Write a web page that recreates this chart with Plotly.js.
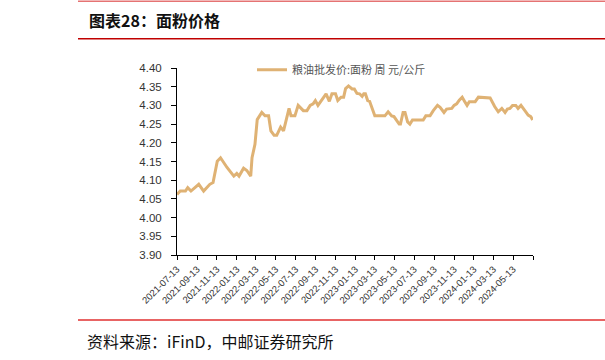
<!DOCTYPE html>
<html>
<head>
<meta charset="utf-8">
<script src="https://cdn.plot.ly/plotly-3.0.1.min.js"></script>
<style>html,body{margin:0;padding:0;background:#fff;}#chart{width:605px;height:360px;}</style>
</head>
<body>
<div id="chart"></div>
<script>
const seriesName = '粮油批发价:面粉 周 元/公斤';
const dates = [
 '2021-07-13','2021-07-23','2021-08-08','2021-08-15','2021-08-25','2021-09-05','2021-09-18','2021-10-03','2021-10-22','2021-11-01',
 '2021-11-14','2021-11-24','2021-12-14','2022-01-04','2022-01-13','2022-01-20','2022-02-03','2022-02-13','2022-02-25','2022-03-01',
 '2022-03-10','2022-03-17','2022-03-26','2022-03-31','2022-04-10','2022-04-21','2022-04-28','2022-05-08','2022-05-16','2022-05-28',
 '2022-06-06','2022-06-14','2022-06-23','2022-06-29','2022-07-11','2022-07-21','2022-08-06','2022-08-17','2022-08-27','2022-09-05',
 '2022-09-12','2022-09-20','2022-10-07','2022-10-15','2022-10-25','2022-11-02','2022-11-13','2022-11-20','2022-11-30','2022-12-08',
 '2022-12-14','2022-12-23','2023-01-03','2023-01-10','2023-01-18','2023-01-26','2023-02-03','2023-02-08','2023-02-13','2023-02-20',
 '2023-02-26','2023-03-05','2023-03-14','2023-03-30','2023-04-14','2023-04-24','2023-05-05','2023-05-12','2023-05-20','2023-05-28',
 '2023-06-01','2023-06-09','2023-06-15','2023-06-23','2023-06-30','2023-07-08','2023-07-31','2023-08-10','2023-08-18','2023-08-31',
 '2023-09-10','2023-09-23','2023-10-01','2023-10-13','2023-10-21','2023-11-06','2023-11-13','2023-11-21','2023-11-29','2023-12-08',
 '2023-12-16','2023-12-23','2023-12-30','2024-01-17','2024-01-27','2024-02-26','2024-03-03','2024-03-17','2024-03-28','2024-04-08',
 '2024-04-18','2024-04-25','2024-05-03','2024-05-11','2024-05-21','2024-05-28','2024-06-06','2024-06-18','2024-06-28','2024-07-06',
 '2024-07-12'
];
const flourPrice = [
 4.062,4.071,4.071,4.080,4.071,4.080,4.089,4.071,4.089,4.094,
 4.151,4.160,4.134,4.111,4.118,4.111,4.132,4.126,4.111,4.160,
 4.196,4.262,4.276,4.281,4.272,4.272,4.232,4.220,4.220,4.242,
 4.232,4.259,4.292,4.272,4.272,4.300,4.286,4.286,4.300,4.304,
 4.313,4.300,4.322,4.331,4.311,4.331,4.331,4.313,4.322,4.322,
 4.345,4.352,4.344,4.344,4.332,4.331,4.324,4.331,4.331,4.313,
 4.311,4.295,4.272,4.272,4.272,4.283,4.272,4.270,4.259,4.250,
 4.250,4.281,4.281,4.256,4.250,4.261,4.261,4.261,4.272,4.272,
 4.286,4.300,4.295,4.281,4.290,4.292,4.300,4.304,4.314,4.322,
 4.310,4.300,4.310,4.310,4.322,4.322,4.320,4.297,4.283,4.292,
 4.281,4.290,4.292,4.300,4.300,4.292,4.300,4.286,4.274,4.270,
 4.261
];
const tickDates = ['2021-07-13','2021-09-13','2021-11-13','2022-01-13','2022-03-13','2022-05-13','2022-07-13','2022-09-13','2022-11-13','2023-01-13','2023-03-13','2023-05-13','2023-07-13','2023-09-13','2023-11-13','2024-01-13','2024-03-13','2024-05-13','2024-07-13'];
const tickLabels = ['2021-07-13','2021-09-13','2021-11-13','2022-01-13','2022-03-13','2022-05-13','2022-07-13','2022-09-13','2022-11-13','2023-01-13','2023-03-13','2023-05-13','2023-07-13','2023-09-13','2023-11-13','2024-01-13','2024-03-13','2024-05-13',''];
const yTicks = [3.90,3.95,4.00,4.05,4.10,4.15,4.20,4.25,4.30,4.35,4.40];
const chartTitle = '图表28：面粉价格';
const sourceText = '资料来源：iFinD，中邮证券研究所';

const L = 177, R = 533, T = 67.7, B = 255;
const W = R - L, H = B - T;
const px = x => (x - L) / W;
const py = y => (B - y) / H;

const trace = {
  x: dates, y: flourPrice, type: 'scatter', mode: 'lines', name: seriesName,
  line: {color: '#DFB274', width: 3}
};

const layout = {
  width: 605, height: 360,
  margin: {l: L, r: 605 - R, t: T, b: 360 - B, pad: 0},
  paper_bgcolor: '#fff', plot_bgcolor: '#fff',
  showlegend: true,
  legend: {
    x: px(252), y: py(55), xanchor: 'left', yanchor: 'top', orientation: 'h',
    font: {family: 'Noto Sans CJK SC', size: 11, color: '#555'},
    bgcolor: 'rgba(0,0,0,0)', itemwidth: 30
  },
  xaxis: {
    type: 'date', range: ['2021-07-13', '2024-07-13'],
    tickmode: 'array', tickvals: tickDates, ticktext: tickLabels,
    tickangle: -45, ticks: 'outside', ticklen: 4, tickcolor: '#000', tickwidth: 1,
    showline: true, linecolor: '#000', linewidth: 1, showgrid: false, zeroline: false,
    tickfont: {family: 'Liberation Sans', size: 9.5, color: '#333'}
  },
  yaxis: {
    range: [3.90, 4.40], tickmode: 'array', tickvals: yTicks,
    tickformat: '.2f', ticks: 'outside', ticklen: 5, tickcolor: '#000', tickwidth: 1,
    ticklabelstandoff: 7,
    showline: true, linecolor: '#000', linewidth: 1, showgrid: false, zeroline: false,
    tickfont: {family: 'Liberation Sans', size: 11.5, color: '#333'}
  },
  shapes: [
    {type: 'line', xref: 'paper', yref: 'paper', x0: px(78), x1: px(605), y0: py(0.8), y1: py(0.8), line: {color: '#E57373', width: 1.5}},
    {type: 'line', xref: 'paper', yref: 'paper', x0: px(78), x1: px(605), y0: py(38.3), y1: py(38.3), line: {color: '#C00000', width: 1.5}},
    {type: 'line', xref: 'paper', yref: 'paper', x0: px(78), x1: px(605), y0: py(320), y1: py(320), line: {color: '#E03030', width: 1.5}}
  ],
  annotations: [
    {text: '<b>' + chartTitle + '</b>', xref: 'paper', yref: 'paper', x: px(87), y: py(20), xanchor: 'left', yanchor: 'middle', showarrow: false,
     font: {family: 'Noto Sans CJK SC', size: 16, color: '#111'}},
    {text: sourceText, xref: 'paper', yref: 'paper', x: px(85), y: py(341.5), xanchor: 'left', yanchor: 'middle', showarrow: false,
     font: {family: 'Noto Sans CJK SC', size: 16, color: '#111'}}
  ]
};

Plotly.newPlot('chart', [trace], layout, {displayModeBar: false, staticPlot: true});
</script>
</body>
</html>
